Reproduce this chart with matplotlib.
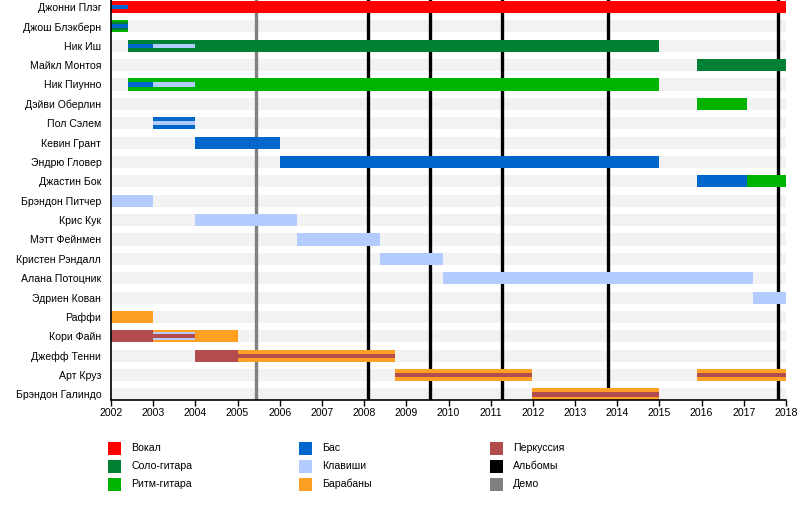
import matplotlib
matplotlib.use("Agg")
import matplotlib.pyplot as plt
from matplotlib.patches import Rectangle

plt.rcParams['font.family'] = ['Liberation Sans', 'DejaVu Sans']

members = ["Джонни Плэг", "Джош Блэкберн", "Ник Иш", "Майкл Монтоя", "Ник Пиунно",
           "Дэйви Оберлин", "Пол Сэлем", "Кевин Грант", "Эндрю Гловер", "Джастин Бок",
           "Брэндон Питчер", "Крис Кук", "Мэтт Фейнмен", "Кристен Рэндалл",
           "Алана Потоцник", "Эдриен Кован", "Раффи", "Кори Файн", "Джефф Тенни",
           "Арт Круз", "Брэндон Галиндо"]

roles = ["Вокал", "Соло-гитара", "Ритм-гитара", "Бас", "Клавиши", "Барабаны",
         "Перкуссия", "Альбомы", "Демо"]
role_colors = ["#ff0000", "#008033", "#00b300", "#0066cc", "#b3ccff", "#ffa024",
               "#b34d4d", "#000000", "#808080"]

# (member, start, end, role) -- full-height bars
main_bars = [
    ("Джонни Плэг", 2002.0, 2018.0, "Вокал"),
    ("Джош Блэкберн", 2002.0, 2002.4, "Ритм-гитара"),
    ("Ник Иш", 2002.4, 2015.0, "Соло-гитара"),
    ("Майкл Монтоя", 2015.89, 2018.0, "Соло-гитара"),
    ("Ник Пиунно", 2002.4, 2015.0, "Ритм-гитара"),
    ("Дэйви Оберлин", 2015.89, 2017.08, "Ритм-гитара"),
    ("Пол Сэлем", 2003.0, 2004.0, "Бас"),
    ("Кевин Грант", 2004.0, 2006.0, "Бас"),
    ("Эндрю Гловер", 2006.0, 2015.0, "Бас"),
    ("Джастин Бок", 2015.89, 2017.08, "Бас"),
    ("Джастин Бок", 2017.08, 2018.0, "Ритм-гитара"),
    ("Брэндон Питчер", 2002.0, 2003.0, "Клавиши"),
    ("Крис Кук", 2004.0, 2006.4, "Клавиши"),
    ("Мэтт Фейнмен", 2006.4, 2008.38, "Клавиши"),
    ("Кристен Рэндалл", 2008.38, 2009.88, "Клавиши"),
    ("Алана Потоцник", 2009.88, 2017.22, "Клавиши"),
    ("Эдриен Кован", 2017.22, 2018.0, "Клавиши"),
    ("Раффи", 2002.0, 2003.0, "Барабаны"),
    ("Кори Файн", 2002.0, 2003.0, "Перкуссия"),
    ("Кори Файн", 2003.0, 2005.0, "Барабаны"),
    ("Джефф Тенни", 2004.0, 2005.0, "Перкуссия"),
    ("Джефф Тенни", 2005.0, 2008.72, "Барабаны"),
    ("Арт Круз", 2008.72, 2011.98, "Барабаны"),
    ("Арт Круз", 2015.89, 2018.0, "Барабаны"),
    ("Брэндон Галиндо", 2011.97, 2015.0, "Барабаны"),
]

# secondary roles drawn as a wider inner band (three-role periods)
outer_stripes = [
    ("Джош Блэкберн", 2002.0, 2002.4, "Соло-гитара"),
    ("Кори Файн", 2003.0, 2004.0, "Клавиши"),
]

# secondary roles drawn as a thin middle stripe
inner_stripes = [
    ("Джонни Плэг", 2002.0, 2002.4, "Бас"),
    ("Джош Блэкберн", 2002.0, 2002.4, "Бас"),
    ("Ник Иш", 2002.4, 2003.0, "Бас"),
    ("Ник Иш", 2003.0, 2004.0, "Клавиши"),
    ("Ник Пиунно", 2002.4, 2003.0, "Бас"),
    ("Ник Пиунно", 2003.0, 2004.0, "Клавиши"),
    ("Пол Сэлем", 2003.0, 2004.0, "Клавиши"),
    ("Кори Файн", 2003.0, 2004.0, "Перкуссия"),
    ("Джефф Тенни", 2005.0, 2008.72, "Перкуссия"),
    ("Арт Круз", 2008.72, 2011.98, "Перкуссия"),
    ("Арт Круз", 2015.89, 2018.0, "Перкуссия"),
    ("Брэндон Галиндо", 2011.97, 2015.0, "Перкуссия"),
]

albums = [2008.08, 2009.57, 2011.27, 2013.79, 2017.8]
demos = [2005.44]

year_start, year_end = 2002, 2018
years = list(range(year_start, year_end + 1))

color_of = dict(zip(roles, role_colors))
row_of = {m: i for i, m in enumerate(members)}

fs = 7.6

fig = plt.figure(figsize=(8, 5.2), dpi=100)
ax = fig.add_axes([111 / 800, 1 - 400 / 520, 675 / 800, 400 / 520])

bar_h = 0.62
rows = list(range(len(members)))
ax.barh(rows, year_end - year_start, left=year_start, height=bar_h,
        color="#f2f2f2", zorder=0)

for x in albums:
    ax.axvline(x, color=color_of["Альбомы"], lw=2.4, zorder=1)
for x in demos:
    ax.axvline(x, color=color_of["Демо"], lw=2.4, zorder=1)

def draw(segs, h, z):
    for m, s, e, r in segs:
        ax.barh(row_of[m], e - s, left=s, height=h, color=color_of[r],
                zorder=z, linewidth=0)

draw(main_bars, bar_h, 2)
draw(outer_stripes, bar_h * 0.68, 3)
draw(inner_stripes, bar_h * 0.34, 4)

ax.set_xlim(year_start, year_end)
ax.set_ylim(len(members) - 1 + 0.284, -0.361)
ax.set_yticks(rows)
ax.set_yticklabels(members, fontsize=fs)
ax.set_xticks(years)
ax.set_xticklabels([str(y) for y in years], fontsize=fs)
ax.tick_params(axis='y', length=0, pad=7)
ax.tick_params(axis='x', length=4, width=1, direction='out', pad=2)
for sp in ["top", "right"]:
    ax.spines[sp].set_visible(False)
for sp in ["left", "bottom"]:
    ax.spines[sp].set_linewidth(1.2)
    ax.spines[sp].set_zorder(5)

# legend
col_x = [108, 299, 490]
row_y = [448, 466, 484]
sq = 13
for i, (r, c) in enumerate(zip(roles, role_colors)):
    cx = col_x[i // 3]
    cy = row_y[i % 3]
    fig.add_artist(Rectangle((cx / 800, 1 - (cy + sq / 2) / 520), sq / 800, sq / 520,
                             transform=fig.transFigure, color=c, lw=0))
    fig.text((cx + 23) / 800, 1 - cy / 520, r, fontsize=fs, va="center", ha="left")

fig.savefig("out.png", dpi=100)
